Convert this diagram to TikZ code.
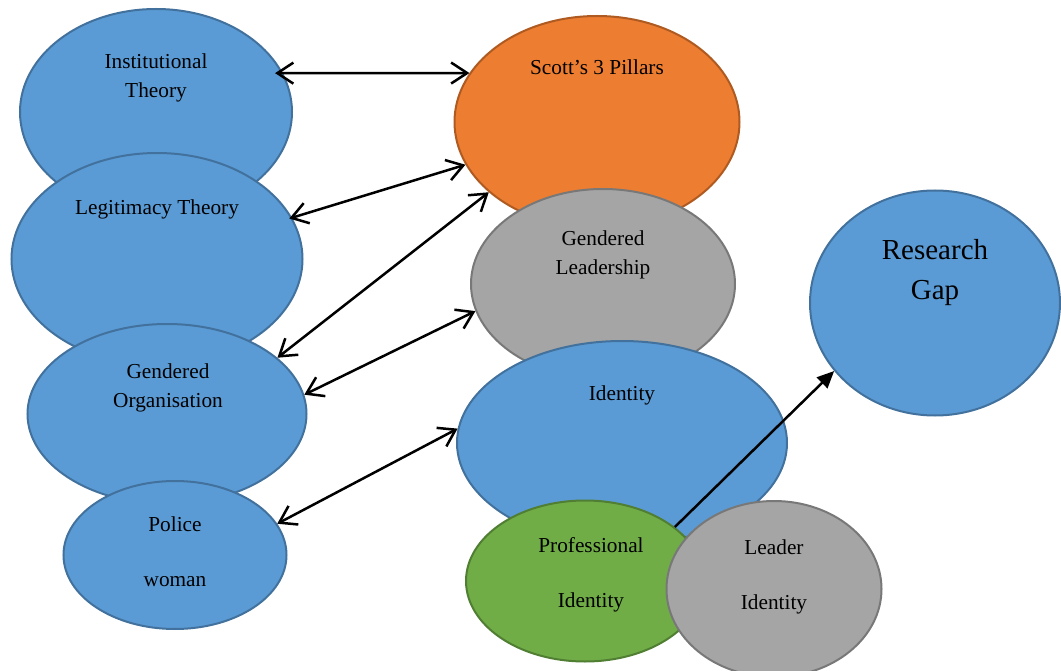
\documentclass[tikz,border=0pt]{standalone}
\usepackage{fontspec}
\setmainfont{Liberation Serif}
\usetikzlibrary{shapes.geometric,arrows.meta}
\definecolor{bluefill}{HTML}{5B9BD5}
\definecolor{blueline}{HTML}{41719C}
\definecolor{orangefill}{HTML}{ED7D31}
\definecolor{orangeline}{HTML}{AE5A21}
\definecolor{grayfill}{HTML}{A5A5A5}
\definecolor{grayline}{HTML}{787878}
\definecolor{greenfill}{HTML}{70AD47}
\definecolor{greenline}{HTML}{507E32}
\tikzset{
  bubble/.style={ellipse, inner sep=0pt, line width=2pt},
  bluebub/.style={bubble, fill=bluefill, draw=blueline},
  orangebub/.style={bubble, fill=orangefill, draw=orangeline},
  graybub/.style={bubble, fill=grayfill, draw=grayline},
  greenbub/.style={bubble, fill=greenfill, draw=greenline},
  txt/.style={align=center, inner sep=0pt, font=\fontsize{21.3}{29}\selectfont},
  widetxt/.style={txt, font=\fontsize{21.3}{55}\selectfont},
  bigtxt/.style={txt, font=\fontsize{29}{40}\selectfont},
  barb/.tip={Straight Barb[length=16pt,width=21pt,line width=2.5pt]},
  link/.style={line width=2.5pt, barb-barb},
  onearrow/.style={line width=2.5pt, -{Triangle[length=17pt,width=15pt]}}
}
\begin{document}
\begin{tikzpicture}[x=1pt,y=-1pt]
\useasboundingbox (0,0) rectangle (1061,671);
\clip (0,0) rectangle (1061,671);

% left column of theories
\node[bluebub, minimum width=272pt, minimum height=206pt] (inst) at (156,112) {};
\node[bluebub, minimum width=291pt, minimum height=212pt] (legit) at (157,259) {};
\node[bluebub, minimum width=279pt, minimum height=180pt] (gorg) at (167,414) {};
\node[bluebub, minimum width=223pt, minimum height=148pt] (police) at (175,555) {};

% centre column
\node[orangebub, minimum width=285pt, minimum height=212pt] (scott) at (597,122) {};
\node[graybub, minimum width=264pt, minimum height=190pt] (glead) at (603,284) {};
\node[bluebub, minimum width=330pt, minimum height=204pt] (ident) at (622,443) {};
\node[greenbub, minimum width=238pt, minimum height=161pt] (prof) at (585,581) {};
\node[graybub, minimum width=215pt, minimum height=176pt] (leader) at (774,589) {};

% right
\node[bluebub, minimum width=250pt, minimum height=225pt] (gap) at (935,303) {};

% texts
\node[txt] (instT) at (156,77.5) {Institutional\\Theory};
\node[txt] (legitT) at (157,209) {Legitimacy Theory};
\node[txt] (gorgT) at (168,387.5) {Gendered\\Organisation};
\node[widetxt] (policeT) at (175,551.5) {Police\\woman};
\node[txt] (scottT) at (597,67) {Scott’s 3 Pillars};
\node[txt] (gleadT) at (603,254.5) {Gendered\\Leadership};
\node[txt] (identT) at (622,395) {Identity};
\node[widetxt] (profT) at (591,574.5) {Professional\\Identity};
\node[widetxt] (leaderT) at (774,576.5) {Leader\\Identity};
\node[bigtxt] (gapT) at (935,273) {Research\\Gap};

% connectors
\draw[link, shorten <=-8pt] (inst.17.3) -- (scott.159.4);
\draw[link, shorten <=-3pt] (legit.17.9) -- (scott.198.9);
\draw[link] (gorg.27.6) -- (scott.213.1);
\draw[link] (gorg.8.9) -- (glead.192.2);
\draw[link] (police.17.6) -- (ident.175.2);
\draw[onearrow] (prof.31) -- (gap.214.8);
\end{tikzpicture}
\end{document}
